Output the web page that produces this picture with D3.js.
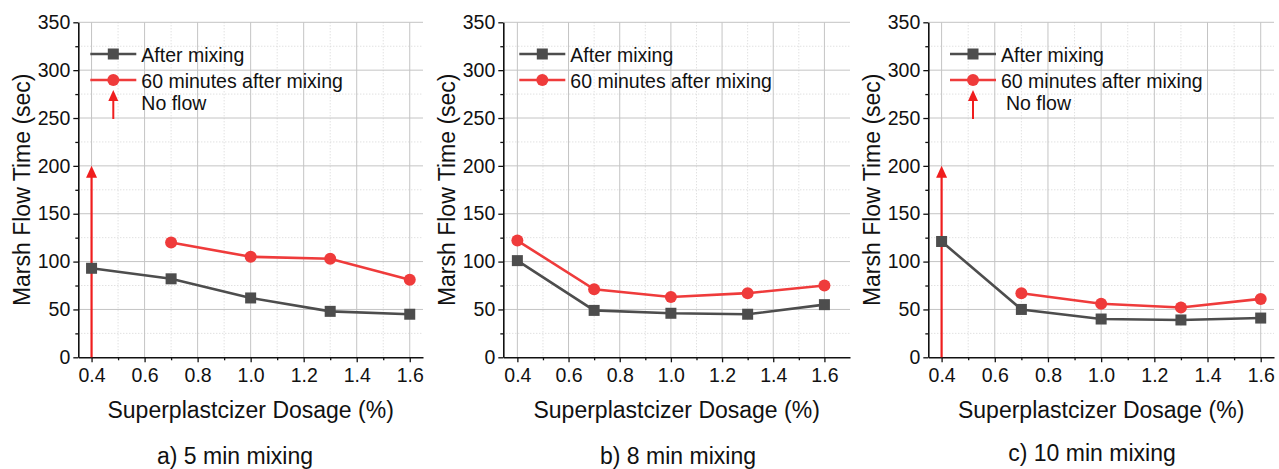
<!DOCTYPE html>
<html>
<head>
<meta charset="utf-8">
<script src="https://cdn.jsdelivr.net/npm/d3@7"></script>
<style>
  body { margin: 0; background: #fff; }
  svg { display: block; font-family: "Liberation Sans", Arial, sans-serif; }
</style>
</head>
<body>
<svg id="chart" width="1279" height="469"></svg>
<script>
// values
const dosage = [0.4, 0.7, 1.0, 1.3, 1.6];
const xTicks = [0.4, 0.6, 0.8, 1.0, 1.2, 1.4, 1.6];
const yTicks = [0, 50, 100, 150, 200, 250, 300, 350];
const seriesNames = ["After mixing", "60 minutes after mixing"];
const noFlowLabel = "No flow";
const noFlowTop = 200; // arrow height at 0.4 %

const after5 = [93, 82, 62, 48, 45];
const later5 = [null, 120, 105, 103, 81];
const after8 = [101, 49, 46, 45, 55];
const later8 = [122, 71, 63, 67, 75];
const after10 = [121, 50, 40, 39, 41];
const later10 = [null, 67, 56, 52, 61];

const captions = ["a) 5 min mixing", "b) 8 min mixing", "c) 10 min mixing"];
const xTitle = "Superplastcizer Dosage (%)";
const yTitle = "Marsh Flow Time (sec)";

const gray = "#4d4d4d", red = "#ef3b3b", arrowRed = "#f01e1e";

// panel layout
const panels = [
  {after: after5, later: later5, noFlow: true, caption: captions[0],
   xDom: [0.35, 1.65], xRange: [78.3, 423], legX: 12, nfDx: 0, capX: 235, capY: 463.5},
  {after: after8, later: later8, noFlow: false, caption: captions[1],
   xDom: [0.345, 1.70], xRange: [503.3, 850], legX: 16, nfDx: 0, capX: 678, capY: 463.8},
  {after: after10, later: later10, noFlow: true, caption: captions[2],
   xDom: [0.35, 1.65], xRange: [928.3, 1274], legX: 21.7, nfDx: 5, capX: 1092, capY: 461}
];

const plotTop = 22.3, plotBottom = 357.3;
const y = d3.scaleLinear().domain([0, 350]).range([plotBottom, plotTop]);
const svg = d3.select("#chart");

const yMinor = d3.range(25, 350, 50);

panels.forEach(p => {
  const x = d3.scaleLinear().domain(p.xDom).range(p.xRange);
  const g = svg.append("g");
  const left = p.xRange[0], right = p.xRange[1];
  const xMinor = d3.range(0.5, p.xDom[1], 0.2).map(v => +v.toFixed(2));

  // grid
  g.selectAll(".ymin").data(yMinor).enter().append("line")
    .attr("x1", left).attr("x2", right)
    .attr("y1", d => y(d)).attr("y2", d => y(d))
    .attr("stroke", "#d4d4d4").attr("stroke-dasharray", "1,2");
  g.selectAll(".xmin").data(xMinor).enter().append("line")
    .attr("x1", d => x(d)).attr("x2", d => x(d))
    .attr("y1", plotTop).attr("y2", plotBottom)
    .attr("stroke", "#d4d4d4").attr("stroke-dasharray", "1,2");
  g.selectAll(".ymaj").data(yTicks.slice(1)).enter().append("line")
    .attr("x1", left).attr("x2", right)
    .attr("y1", d => y(d)).attr("y2", d => y(d))
    .attr("stroke", "#c4c4c4");
  g.selectAll(".xmaj").data(xTicks).enter().append("line")
    .attr("x1", d => x(d)).attr("x2", d => x(d))
    .attr("y1", plotTop).attr("y2", plotBottom)
    .attr("stroke", "#c4c4c4");

  // axes
  const ax = g.append("g").attr("transform", `translate(0,${plotBottom})`)
    .call(d3.axisBottom(x).tickValues(xTicks).tickFormat(d3.format(".1f"))
      .tickSize(5).tickSizeOuter(0).tickPadding(6));
  g.append("g").attr("transform", `translate(0,${plotBottom})`)
    .call(d3.axisBottom(x).tickValues(xMinor).tickFormat("").tickSize(3).tickSizeOuter(0))
    .select(".domain").remove();
  const ay = g.append("g").attr("transform", `translate(${left},0)`)
    .call(d3.axisLeft(y).tickValues(yTicks).tickSize(5).tickSizeOuter(0).tickPadding(3));
  g.append("g").attr("transform", `translate(${left},0)`)
    .call(d3.axisLeft(y).tickValues(yMinor).tickFormat("").tickSize(3).tickSizeOuter(0))
    .select(".domain").remove();
  [ax, ay].forEach(a => {
    a.selectAll("text").attr("font-size", "19.5px").attr("fill", "#111")
      .attr("font-family", "'Liberation Sans', Arial, sans-serif");
    a.select(".domain").attr("stroke", "#111").attr("stroke-width", 1.6);
  });
  g.selectAll(".tick line").attr("stroke", "#111").attr("stroke-width", 1.3);

  // no-flow arrow in plot
  if (p.noFlow) {
    const ax0 = x(dosage[0]), tip = y(noFlowTop);
    g.append("line").attr("x1", ax0).attr("x2", ax0)
      .attr("y1", y(0)).attr("y2", tip + 10)
      .attr("stroke", arrowRed).attr("stroke-width", 2.2);
    g.append("path")
      .attr("d", `M${ax0},${tip} L${ax0 - 5.5},${tip + 12} L${ax0 + 5.5},${tip + 12} Z`)
      .attr("fill", arrowRed);
  }

  // series
  const line = d3.line().defined(d => d[1] != null)
    .x(d => x(d[0])).y(d => y(d[1]));
  const afterPts = dosage.map((d, i) => [d, p.after[i]]);
  const laterPts = dosage.map((d, i) => [d, p.later[i]]).filter(d => d[1] != null);

  g.append("path").datum(afterPts).attr("d", line)
    .attr("fill", "none").attr("stroke", gray).attr("stroke-width", 2.6);
  g.selectAll(".sq").data(afterPts).enter().append("rect")
    .attr("x", d => x(d[0]) - 5.5).attr("y", d => y(d[1]) - 5.5)
    .attr("width", 11).attr("height", 11).attr("fill", gray);

  g.append("path").datum(laterPts).attr("d", line)
    .attr("fill", "none").attr("stroke", red).attr("stroke-width", 2.6);
  g.selectAll(".ci").data(laterPts).enter().append("circle")
    .attr("cx", d => x(d[0])).attr("cy", d => y(d[1])).attr("r", 6)
    .attr("fill", red);

  // legend
  const lx = left + p.legX;
  const leg = g.append("g").attr("font-size", "19.5px").attr("fill", "#111");
  [[gray, 54, "sq"], [red, 80, "ci"]].forEach((s, i) => {
    leg.append("line").attr("x1", lx).attr("x2", lx + 46)
      .attr("y1", s[1]).attr("y2", s[1])
      .attr("stroke", s[0]).attr("stroke-width", 2.6);
    if (s[2] === "sq") {
      leg.append("rect").attr("x", lx + 23 - 5.5).attr("y", s[1] - 5.5)
        .attr("width", 11).attr("height", 11).attr("fill", s[0]);
    } else {
      leg.append("circle").attr("cx", lx + 23).attr("cy", s[1]).attr("r", 6)
        .attr("fill", s[0]);
    }
    leg.append("text").attr("x", lx + 51).attr("y", s[1] + 7.5)
      .text(seriesNames[i]);
  });
  if (p.noFlow) {
    const axl = lx + 23, tip = 90;
    leg.append("line").attr("x1", axl).attr("x2", axl)
      .attr("y1", tip + 29).attr("y2", tip + 8)
      .attr("stroke", arrowRed).attr("stroke-width", 2);
    leg.append("path")
      .attr("d", `M${axl},${tip} L${axl - 5},${tip + 11} L${axl + 5},${tip + 11} Z`)
      .attr("fill", arrowRed);
    leg.append("text").attr("x", lx + 51 + p.nfDx).attr("y", 110).text(noFlowLabel);
  }

  // titles
  g.append("text").attr("x", (left + right) / 2).attr("y", 418)
    .attr("text-anchor", "middle").attr("font-size", "23px").attr("fill", "#111")
    .text(xTitle);
  g.append("text")
    .attr("transform", `translate(${left - 48},${(plotTop + plotBottom) / 2}) rotate(-90)`)
    .attr("text-anchor", "middle").attr("font-size", "23px").attr("fill", "#111")
    .text(yTitle);
  g.append("text").attr("x", p.capX).attr("y", p.capY)
    .attr("text-anchor", "middle").attr("font-size", "23px").attr("fill", "#111")
    .text(p.caption);
});
</script>
</body>
</html>
